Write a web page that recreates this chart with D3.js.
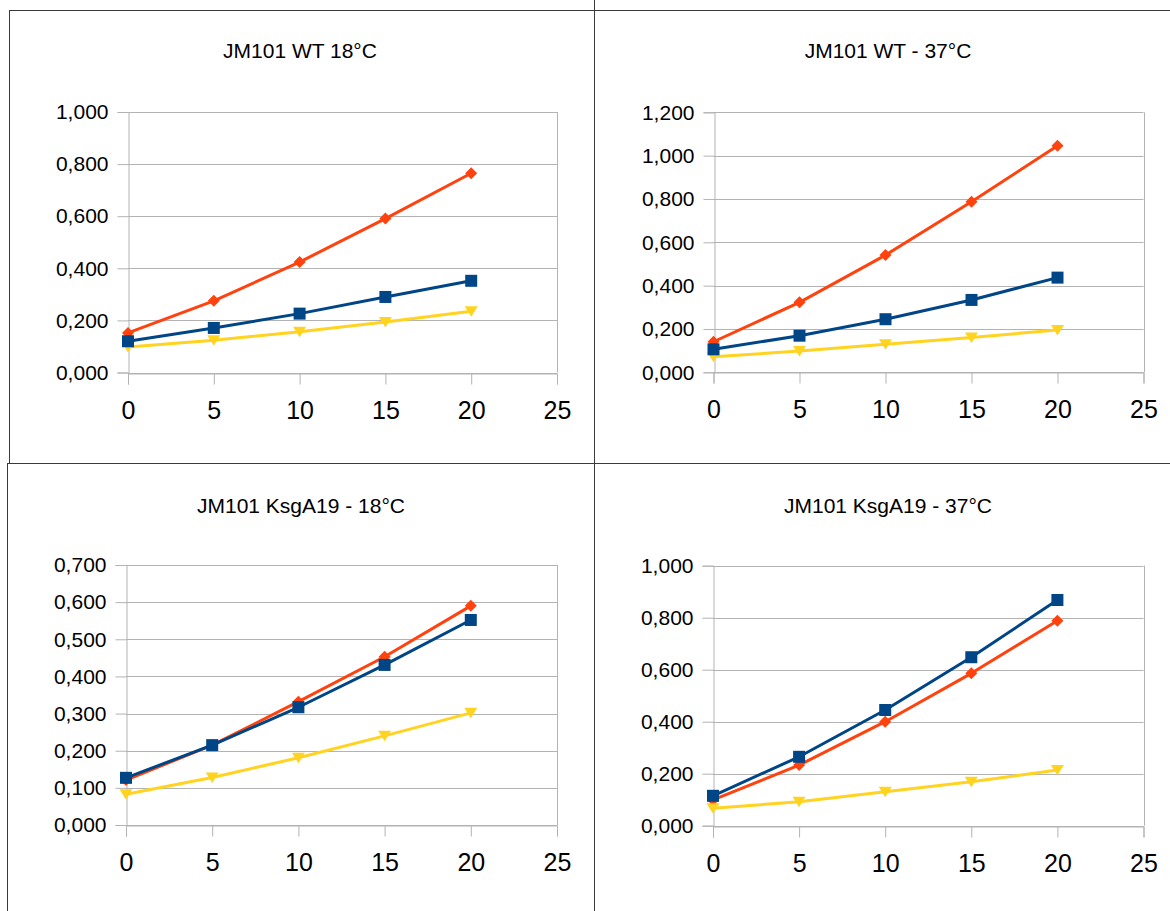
<!DOCTYPE html>
<html>
<head>
<meta charset="utf-8">
<script src="https://cdn.jsdelivr.net/npm/d3@7/dist/d3.min.js"></script>
<style>
  html, body { margin: 0; padding: 0; background: #fff; }
  svg { display: block; font-family: "Liberation Sans", Arial, sans-serif; }
</style>
</head>
<body>
<svg id="chart" width="1170" height="911"></svg>
<script>
// Zeitpunkte (x-Achse)
const times = [0, 5, 10, 15, 20];
const xTicks = [0, 5, 10, 15, 20, 25];

// Titel
const titles = ['JM101 WT 18°C', 'JM101 WT - 37°C', 'JM101 KsgA19 - 18°C', 'JM101 KsgA19 - 37°C'];

// Werte je Panel: blau (Quadrat), orange (Raute), gelb (Dreieck)
const wt18Blue   = [0.120, 0.171, 0.226, 0.290, 0.352];
const wt18Orange = [0.152, 0.275, 0.424, 0.591, 0.765];
const wt18Yellow = [0.098, 0.124, 0.156, 0.194, 0.235];

const wt37Blue   = [0.106, 0.169, 0.245, 0.334, 0.437];
const wt37Orange = [0.141, 0.323, 0.541, 0.787, 1.046];
const wt37Yellow = [0.072, 0.098, 0.129, 0.161, 0.195];

const ksg18Blue   = [0.127, 0.215, 0.317, 0.431, 0.552];
const ksg18Orange = [0.121, 0.215, 0.332, 0.453, 0.590];
const ksg18Yellow = [0.083, 0.128, 0.181, 0.240, 0.302];

const ksg37Blue   = [0.115, 0.265, 0.445, 0.648, 0.868];
const ksg37Orange = [0.099, 0.233, 0.400, 0.586, 0.788];
const ksg37Yellow = [0.067, 0.092, 0.131, 0.169, 0.214];

// y-Achsen (Maximum, Schritt)
const yMaxes = [1.0, 1.2, 0.7, 1.0];
const ySteps = [0.2, 0.2, 0.1, 0.2];

const panelData = [
  { orange: wt18Orange, yellow: wt18Yellow, blue: wt18Blue },
  { orange: wt37Orange, yellow: wt37Yellow, blue: wt37Blue },
  { orange: ksg18Orange, yellow: ksg18Yellow, blue: ksg18Blue },
  { orange: ksg37Orange, yellow: ksg37Yellow, blue: ksg37Blue }
];

// Layout der vier Diagramme
const layout = [
  { x0: 128,   x1: 557,    yTop: 112,   yBot: 372.5, tx: 300, ty: 58 },
  { x0: 713.5, x1: 1143.5, yTop: 112.3, yBot: 372.3, tx: 888, ty: 58 },
  { x0: 126,   x1: 557,    yTop: 565,   yBot: 825,   tx: 301, ty: 513 },
  { x0: 713,   x1: 1143.5, yTop: 565.7, yBot: 825.7, tx: 888, ty: 513 }
];

const colors = { blue: '#004586', orange: '#ff420e', yellow: '#ffd320' };

const locale = d3.formatLocale({ decimal: ',', thousands: '.', grouping: [3], currency: ['', ''] });
const fmt = locale.format('.3f');

// Symbole
function squarePath() { const s = 6; return `M${-s},${-s}H${s}V${s}H${-s}Z`; }
function diamondPath() { return 'M0,-6L6,0L0,6L-6,0Z'; }
function triPath() { return 'M-6.5,-5L6.5,-5L0,5.5Z'; }
const symbols = { blue: squarePath(), orange: diamondPath(), yellow: triPath() };

const svg = d3.select('#chart');

// Rahmen
const frame = svg.append('g').attr('stroke', '#3a3a3a').attr('stroke-width', 1).attr('fill', 'none');
frame.append('line').attr('x1', 9).attr('x2', 1170).attr('y1', 10.5).attr('y2', 10.5);
frame.append('line').attr('x1', 7).attr('x2', 1170).attr('y1', 463.5).attr('y2', 463.5);
frame.append('line').attr('x1', 9.5).attr('x2', 9.5).attr('y1', 10).attr('y2', 464);
frame.append('line').attr('x1', 7.5).attr('x2', 7.5).attr('y1', 463).attr('y2', 911);
frame.append('line').attr('x1', 594.5).attr('x2', 594.5).attr('y1', 0).attr('y2', 911);

layout.forEach((L, i) => {
  const g = svg.append('g');
  const x = d3.scaleLinear().domain([0, 25]).range([L.x0, L.x1]);
  const y = d3.scaleLinear().domain([0, yMaxes[i]]).range([L.yBot, L.yTop]);
  const yTicks = d3.range(0, yMaxes[i] + 1e-9, ySteps[i]);

  // Gitterlinien
  g.append('g').selectAll('line').data(yTicks).enter().append('line')
    .attr('x1', L.x0).attr('x2', L.x1)
    .attr('y1', d => Math.round(y(d)) + 0.5).attr('y2', d => Math.round(y(d)) + 0.5)
    .attr('stroke', '#b3b3b3').attr('stroke-width', 1);
  g.append('line')
    .attr('x1', Math.round(x(25)) + 0.5).attr('x2', Math.round(x(25)) + 0.5)
    .attr('y1', y(yMaxes[i])).attr('y2', y(0))
    .attr('stroke', '#b3b3b3');

  // Achsen
  const yAxis = d3.axisLeft(y).tickValues(yTicks).tickFormat(fmt).tickSize(11).tickPadding(9);
  const ya = g.append('g').attr('transform', `translate(${Math.round(L.x0) + 0.5},0)`).call(yAxis);
  const xAxis = d3.axisBottom(x).tickValues(xTicks).tickFormat(d3.format('d')).tickSize(11).tickPadding(17);
  const xa = g.append('g').attr('transform', `translate(0,${Math.round(L.yBot) + 0.5})`).call(xAxis);
  [ya, xa].forEach(a => {
    a.select('.domain').attr('stroke', '#b3b3b3');
    a.selectAll('.tick line').attr('stroke', '#b3b3b3');
    a.selectAll('.tick text').attr('fill', '#000').style('font-family', '"Liberation Sans", Arial, sans-serif');
  });
  ya.selectAll('.tick text').style('font-size', '21px');
  xa.selectAll('.tick text').style('font-size', '25px');

  // Titel
  g.append('text').attr('x', L.tx).attr('y', L.ty).attr('text-anchor', 'middle')
    .style('font-size', '21px').attr('fill', '#000').text(titles[i]);

  // Datenreihen
  const line = d3.line().x((d, k) => x(times[k])).y(d => y(d));
  ['orange', 'yellow', 'blue'].forEach(key => {
    const vals = panelData[i][key];
    g.append('path').datum(vals).attr('d', line)
      .attr('fill', 'none').attr('stroke', colors[key]).attr('stroke-width', 3)
      .attr('stroke-linejoin', 'round');
    g.append('g').selectAll('path').data(vals).enter().append('path')
      .attr('d', symbols[key])
      .attr('transform', (d, k) => `translate(${x(times[k])},${y(d)})`)
      .attr('fill', colors[key]);
  });
});
</script>
</body>
</html>
